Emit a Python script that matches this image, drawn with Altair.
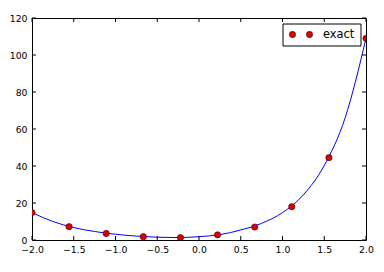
import altair as alt
import pandas as pd

# sampled "exact" points
dot_x = [-2.0, -1.556, -1.111, -0.667, -0.222, 0.222, 0.667, 1.111, 1.556, 2.0]
dot_y = [14.8, 7.2, 3.5, 1.8, 1.3, 2.8, 7.0, 18.0, 44.5, 109.0]

# smooth curve
line_x = [-2.0, -1.75, -1.5, -1.25, -1.0, -0.75, -0.5, -0.25, 0.0, 0.25, 0.5, 0.75, 1.0, 1.25, 1.5, 1.75, 2.0]
line_y = [14.8, 10.0, 6.7, 4.6, 3.1, 2.1, 1.5, 1.3, 1.8, 2.9, 5.4, 9.0, 14.8, 24.4, 40.3, 66.0, 109.0]

x_ticks = [-2.0, -1.5, -1.0, -0.5, 0.0, 0.5, 1.0, 1.5, 2.0]
y_ticks = [0.0, 20.0, 40.0, 60.0, 80.0, 100.0, 120.0]
legend_label = ["exact"]

W, H = 334, 222
FONT = "DejaVu Sans"

xs = alt.Scale(domain=[-2, 2], nice=False, zero=False)
ys = alt.Scale(domain=[0, 120], nice=False, zero=False)

line_df = pd.DataFrame({"x": line_x, "y": line_y})
dot_df = pd.DataFrame({"x": dot_x, "y": dot_y})
xt_df = pd.DataFrame({"xt": x_ticks})
yt_df = pd.DataFrame({"yt": y_ticks})
leg_df = pd.DataFrame({"label": legend_label})

xaxis = alt.Axis(
    values=x_ticks, title=None, grid=False, domain=False, ticks=False,
    labelExpr="replace(format(datum.value, '.1f'), '-', '\u2212')",
    labelFont=FONT, labelFontSize=9.3, labelColor="black", labelPadding=5,
    labelOverlap=False, labelFlush=False, labelBound=False,
)
yaxis = alt.Axis(
    values=y_ticks, title=None, grid=False, domain=False, ticks=False,
    labelExpr="format(datum.value, 'd')", labelFont=FONT, labelFontSize=9.3,
    labelColor="black", labelPadding=5,
    labelOverlap=False, labelFlush=False, labelBound=False,
)

line = alt.Chart(line_df).mark_line(color="#0000ff", strokeWidth=1, interpolate="monotone", clip=True).encode(
    x=alt.X("x:Q", scale=xs, axis=xaxis),
    y=alt.Y("y:Q", scale=ys, axis=yaxis),
)

dots = alt.Chart(dot_df).mark_point(
    filled=True, shape="circle", size=40, color="#e00000", stroke="black", strokeWidth=0.5, opacity=1, clip=True
).encode(x=alt.X("x:Q", scale=xs, axis=xaxis), y=alt.Y("y:Q", scale=ys, axis=yaxis))

TL = 4
rule = dict(color="black", strokeWidth=1)
xt_bottom = alt.Chart(xt_df).mark_rule(**rule).encode(
    x=alt.X("xt:Q", scale=xs, axis=xaxis), y=alt.value(H), y2=alt.value(H - TL))
xt_top = alt.Chart(xt_df).mark_rule(**rule).encode(
    x=alt.X("xt:Q", scale=xs, axis=xaxis), y=alt.value(0), y2=alt.value(TL))
yt_left = alt.Chart(yt_df).mark_rule(**rule).encode(
    y=alt.Y("yt:Q", scale=ys, axis=yaxis), x=alt.value(0), x2=alt.value(TL))
yt_right = alt.Chart(yt_df).mark_rule(**rule).encode(
    y=alt.Y("yt:Q", scale=ys, axis=yaxis), x=alt.value(W), x2=alt.value(W - TL))

leg_box = alt.Chart(leg_df).mark_rect(fill="white", stroke="black", strokeWidth=1).encode(
    x=alt.value(251), x2=alt.value(329), y=alt.value(6), y2=alt.value(28))
leg_dot1 = alt.Chart(leg_df).mark_point(
    filled=True, shape="circle", size=40, color="#e00000", stroke="black", strokeWidth=0.5, opacity=1
).encode(x=alt.value(260.5), y=alt.value(16.5))
leg_dot2 = alt.Chart(leg_df).mark_point(
    filled=True, shape="circle", size=40, color="#e00000", stroke="black", strokeWidth=0.5, opacity=1
).encode(x=alt.value(277.5), y=alt.value(16.5))
leg_text = alt.Chart(leg_df).mark_text(
    font=FONT, fontSize=11.4, color="black", align="left", baseline="middle"
).encode(x=alt.value(291), y=alt.value(16.5), text="label:N")

chart = alt.layer(
    line, dots, xt_bottom, xt_top, yt_left, yt_right, leg_box, leg_dot1, leg_dot2, leg_text
).properties(
    width=W, height=H,
    autosize=alt.AutoSizeParams(type="none"),
    padding={"left": 32, "top": 18, "right": 18, "bottom": 32},
    background="white",
).configure_view(stroke="black", strokeWidth=1)

chart.save("out.html", embed_options={"renderer": "svg", "actions": False})
